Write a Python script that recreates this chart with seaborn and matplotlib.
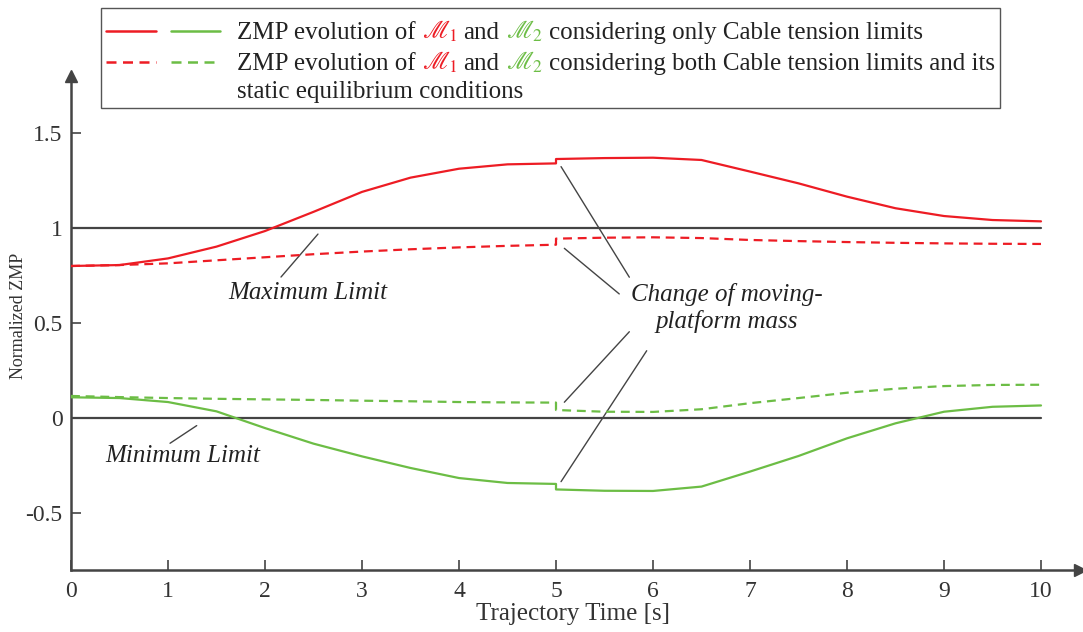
import numpy as np
import pandas as pd
import matplotlib
matplotlib.use("Agg")
import matplotlib.pyplot as plt
import seaborn as sns
from matplotlib.offsetbox import (AnchoredOffsetbox, DrawingArea, HPacker,
                                  TextArea, VPacker)
from matplotlib.lines import Line2D

# trajectory time [s]; 5.0 appears twice for the step at the mass change
time_s = [0, 0.5, 1, 1.5, 2, 2.5, 3, 3.5, 4, 4.5, 5,
          5, 5.5, 6, 6.5, 7, 7.5, 8, 8.5, 9, 9.5, 10]

m1_cable = [0.80, 0.805, 0.84, 0.902, 0.984, 1.085, 1.19, 1.265, 1.312, 1.335, 1.34,
            1.363, 1.368, 1.37, 1.358, 1.297, 1.235, 1.165, 1.104, 1.063, 1.042, 1.035]
m1_static = [0.80, 0.805, 0.814, 0.83, 0.846, 0.862, 0.876, 0.888, 0.898, 0.906, 0.912,
             0.944, 0.949, 0.951, 0.947, 0.937, 0.931, 0.926, 0.922, 0.919, 0.917, 0.916]
m2_cable = [0.109, 0.105, 0.084, 0.035, -0.053, -0.135, -0.202, -0.263, -0.316, -0.342, -0.347,
            -0.376, -0.383, -0.384, -0.361, -0.282, -0.2, -0.107, -0.028, 0.033, 0.059, 0.066]
m2_static = [0.116, 0.11, 0.105, 0.101, 0.098, 0.095, 0.091, 0.088, 0.084, 0.082, 0.081,
             0.042, 0.033, 0.032, 0.046, 0.078, 0.105, 0.133, 0.154, 0.168, 0.174, 0.175]

limits = [0, 1]
x_ticks = list(range(11))
y_ticks = [-0.5, 0, 0.5, 1, 1.5]
y_tick_labels = ["-0.5", "0", "0.5", "1", "1.5"]

RED = "#ed1c24"
GREEN = "#6cbd45"
AXIS = "#444444"
TXT = "#222222"

sns.set_style("ticks")
plt.rcParams["font.family"] = ["Liberation Serif", "DejaVu Serif"]
plt.rcParams["mathtext.fontset"] = "stix"
plt.rcParams["axes.unicode_minus"] = False

rows = []
for name, plat, cons in [("m1_cable", "M1", "cable"), ("m1_static", "M1", "static"),
                         ("m2_cable", "M2", "cable"), ("m2_static", "M2", "static")]:
    vals = globals()[name]
    for t, v in zip(time_s, vals):
        rows.append({"time": t, "zmp": v, "platform": plat, "constraint": cons,
                     "series": name})
df = pd.DataFrame(rows)

fig = plt.figure(figsize=(10.83, 6.32), dpi=100)
ax = fig.add_axes([71 / 1083, 62 / 632, 1008.8 / 1083, 494 / 632])

for lim in limits:
    ax.plot([0, 10], [lim, lim], color=AXIS, lw=1.6, zorder=1)

sns.lineplot(data=df, x="time", y="zmp", hue="platform", style="constraint",
             units="series", estimator=None, sort=False,
             palette={"M1": RED, "M2": GREEN},
             dashes={"cable": "", "static": (4, 2.6)},
             linewidth=1.6, legend=False, ax=ax, zorder=3)

ax.set_xlim(0, 10.4)
ax.set_ylim(-0.8, 1.8)
ax.set_xticks(x_ticks)
ax.set_xticklabels([str(v) for v in x_ticks])
ax.set_yticks(y_ticks)
ax.set_yticklabels(y_tick_labels)
ax.tick_params(direction="in", length=7, width=1.2, color=AXIS,
               labelsize=17, labelcolor="#333333")
ax.tick_params(axis="x", pad=8)
ax.tick_params(axis="y", pad=6)

sns.despine(ax=ax)
for side in ["left", "bottom"]:
    ax.spines[side].set_color(AXIS)
    ax.spines[side].set_linewidth(1.8)
ax.plot(1, 0, ">", color=AXIS, ms=9, transform=ax.transAxes, clip_on=False)
ax.plot(0, 1, "^", color=AXIS, ms=9, transform=ax.transAxes, clip_on=False)

ax.set_xlabel("Trajectory Time [s]", fontsize=18, color="#333333")
ax.set_ylabel("Normalized ZMP", fontsize=13, color="#333333")
ax.xaxis.set_label_coords(0.498, -0.066)
ax.yaxis.set_label_coords(-0.044, 0.514)

# annotations
ann_kw = dict(color="#444444", lw=1.0, zorder=2)
ax.plot([2.165, 2.546], [0.742, 0.968], **ann_kw)
ax.plot([1.021, 1.296], [-0.133, -0.04], **ann_kw)
ax.plot([5.052, 5.756], [1.323, 0.741], **ann_kw)
ax.plot([5.086, 5.652], [0.893, 0.653], **ann_kw)
ax.plot([5.086, 5.756], [0.083, 0.454], **ann_kw)
ax.plot([5.052, 5.935], [-0.335, 0.354], **ann_kw)

ax.text(2.438, 0.658, "Maximum Limit", style="italic", fontsize=18, color=TXT,
        ha="center", va="center")
ax.text(1.15, -0.2, "Minimum Limit", style="italic", fontsize=18, color=TXT,
        ha="center", va="center")
ax.text(6.763, 0.579, "Change of moving-\nplatform mass", style="italic",
        fontsize=18, color=TXT, ha="center", va="center",
        multialignment="center", linespacing=1.2)

# legend built from pieces so the M symbols can be coloured
fs = 18


def handle_box(dashed):
    da = DrawingArea(90, 12, 0, 0)
    ls = (0, (4, 2.6)) if dashed else "-"
    da.add_artist(Line2D([0, 36], [6, 6], color=RED, lw=1.8, ls=ls))
    da.add_artist(Line2D([47, 82], [6, 6], color=GREEN, lw=1.8, ls=ls))
    return da


def txt(s, c=TXT):
    return TextArea(s, textprops=dict(fontsize=fs, color=c))


def row(dashed, tail):
    return HPacker(children=[handle_box(dashed), txt("ZMP evolution of"),
                             txt(r"$\mathscr{M}_1$", RED), txt("and"),
                             txt(r"$\mathscr{M}_2$", GREEN), txt(tail)],
                   align="baseline", pad=0, sep=4.4)


row3 = HPacker(children=[DrawingArea(90, 12, 0, 0), txt("static equilibrium conditions")],
               align="baseline", pad=0, sep=4.4)
box = VPacker(children=[DrawingArea(10, 0.5, 0, 0),
                        row(False, "considering only Cable tension limits"),
                        row(True, "considering both Cable tension limits and its"),
                        row3],
              align="left", pad=0, sep=4.0)
anch = AnchoredOffsetbox(loc="upper left", child=box, pad=0.35, borderpad=0,
                         frameon=True, bbox_to_anchor=(101 / 1083, 1 - 8 / 632),
                         bbox_transform=fig.transFigure)
anch.patch.set_edgecolor("#555555")
anch.patch.set_linewidth(1.0)
anch.patch.set_boxstyle("square", pad=0)
fig.add_artist(anch)

fig.savefig("out.png", dpi=100)
